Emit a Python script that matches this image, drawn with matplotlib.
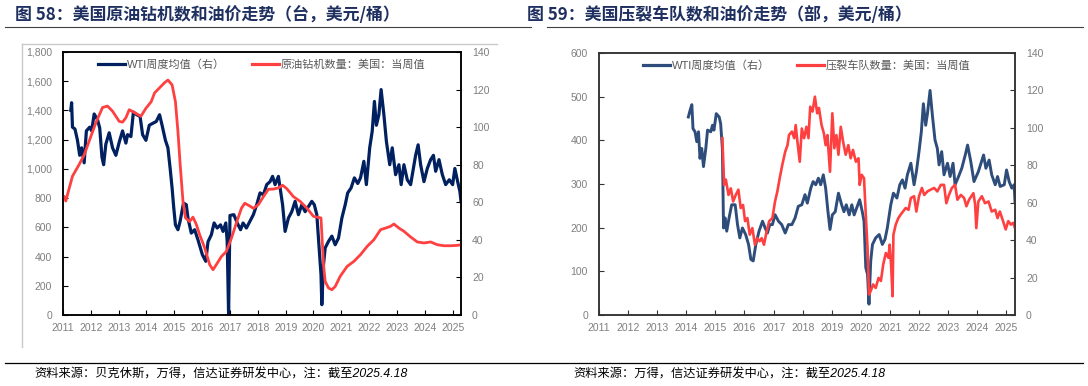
import matplotlib
matplotlib.use("Agg")
import matplotlib.pyplot as plt
from matplotlib.lines import Line2D
from matplotlib.ticker import FuncFormatter

plt.rcParams['font.family'] = ['Liberation Sans', 'Noto Sans CJK SC']
plt.rcParams['axes.unicode_minus'] = False

# ---- data: 图58 ----
rig_x = [2011.04, 2011.10, 2011.34, 2011.58, 2011.76, 2011.94, 2012.18, 2012.42, 2012.60, 2012.78,
         2013.02, 2013.14, 2013.26, 2013.38, 2013.62, 2013.80, 2013.98, 2014.17, 2014.29, 2014.47,
         2014.65, 2014.77, 2014.92, 2015.04, 2015.13, 2015.21, 2015.31, 2015.40, 2015.55, 2015.67,
         2015.79, 2015.91, 2016.09, 2016.27, 2016.39, 2016.51, 2016.69, 2016.87, 2017.05, 2017.23,
         2017.41, 2017.53, 2017.72, 2017.84, 2018.02, 2018.20, 2018.38, 2018.56, 2018.74, 2018.89,
         2019.04, 2019.28, 2019.52, 2019.76, 2020.00, 2020.18, 2020.27, 2020.36, 2020.42, 2020.54,
         2020.66, 2020.78, 2020.96, 2021.21, 2021.45, 2021.69, 2021.93, 2022.17, 2022.41, 2022.59,
         2022.77, 2022.89, 2023.07, 2023.25, 2023.49, 2023.73, 2023.97, 2024.21, 2024.45, 2024.69,
         2024.94, 2025.18, 2025.30]
rig_count = [810, 780, 950, 1030, 1095, 1190, 1315, 1420, 1430, 1395,
             1325, 1320, 1350, 1405, 1380, 1360, 1415, 1460, 1520, 1555,
             1590, 1608, 1575, 1460, 1255, 1030, 780, 665, 640, 670,
             620, 550, 460, 345, 310, 345, 400, 435, 525, 630,
             730, 765, 745, 730, 755, 810, 860, 862, 870, 888,
             865, 810, 778, 732, 675, 668, 664, 345, 230, 185,
             173, 195, 265, 333, 367, 413, 470, 515, 584, 595,
             607, 623, 595, 573, 534, 500, 493, 500, 481, 474,
             474, 477, 481]

wti1_x = [2011.28, 2011.31, 2011.34, 2011.43, 2011.52, 2011.60, 2011.67, 2011.76, 2011.84, 2011.96,
          2012.03, 2012.12, 2012.24, 2012.32, 2012.40, 2012.46, 2012.54, 2012.66, 2012.78, 2012.90,
          2013.02, 2013.14, 2013.26, 2013.32, 2013.44, 2013.53, 2013.65, 2013.77, 2013.86, 2013.98,
          2014.10, 2014.22, 2014.35, 2014.47, 2014.56, 2014.68, 2014.77, 2014.85, 2014.92, 2014.98,
          2015.04, 2015.13, 2015.21, 2015.33, 2015.43, 2015.49, 2015.61, 2015.73, 2015.85, 2016.01,
          2016.13, 2016.21, 2016.33, 2016.43, 2016.54, 2016.66, 2016.75, 2016.85, 2016.90, 2016.95,
          2017.00, 2017.14, 2017.26, 2017.38, 2017.47, 2017.59, 2017.72, 2017.84, 2017.96, 2018.08,
          2018.20, 2018.32, 2018.44, 2018.53, 2018.62, 2018.74, 2018.80, 2018.89, 2018.98, 2019.10,
          2019.22, 2019.34, 2019.46, 2019.58, 2019.70, 2019.82, 2019.94, 2020.03, 2020.12, 2020.22,
          2020.27, 2020.30, 2020.36, 2020.42, 2020.54, 2020.66, 2020.78, 2020.90, 2021.02, 2021.14,
          2021.23, 2021.35, 2021.47, 2021.59, 2021.69, 2021.81, 2021.90, 2022.02, 2022.11, 2022.19,
          2022.26, 2022.35, 2022.43, 2022.53, 2022.62, 2022.74, 2022.83, 2022.95, 2023.07, 2023.15,
          2023.25, 2023.37, 2023.49, 2023.59, 2023.67, 2023.76, 2023.85, 2023.97, 2024.09, 2024.21,
          2024.31, 2024.39, 2024.51, 2024.63, 2024.75, 2024.88, 2025.00, 2025.08, 2025.18, 2025.26,
          2025.30]
wti1 = [109, 113, 100, 99, 93, 85, 89, 81, 98, 100,
        98, 107, 104, 99.5, 84, 80, 91, 97, 89, 85,
        92, 98, 91.5, 96, 95, 108, 106.6, 105.7, 96, 93,
        101, 102, 103, 106.6, 101, 93, 89, 78, 67.6, 57,
        48, 45.4, 50, 59.6, 58.7, 51.6, 43.6, 45.4, 40, 32,
        28.6, 39, 42.7, 49, 46.3, 48, 44.5, 49, 39, 0,
        53, 53.4, 49, 45.4, 49, 46.3, 50, 53.4, 58.7, 65,
        64, 69.4, 71, 73.8, 69.4, 73.8, 67.6, 58.7, 44.5, 51.6,
        55, 60.5, 53.4, 58.7, 55, 57.8, 60.5, 58.7, 53.4, 32,
        21.5, 5.5, 26.8, 35.7, 39.2, 42, 37.4, 41, 51.6, 58.7,
        65, 67.6, 73, 70, 73, 81.8, 69.4, 89, 97.8, 113.7,
        101, 106.6, 120, 106.6, 92.4, 80, 89, 74.7, 80, 69.4,
        80, 72, 69.4, 78, 85, 90.6, 80, 71, 78, 82.7,
        85, 76.5, 82.7, 74.7, 69.4, 72, 69.4, 78, 71, 65.8,
        60.5]

# ---- data: 图59 ----
wti2_x = [2014.07, 2014.13, 2014.19, 2014.23, 2014.30, 2014.36, 2014.42, 2014.47, 2014.53, 2014.59,
          2014.67, 2014.73, 2014.84, 2014.90, 2014.95, 2015.03, 2015.13, 2015.18, 2015.24, 2015.28,
          2015.33, 2015.39, 2015.47, 2015.56, 2015.68, 2015.76, 2015.84, 2015.93, 2016.04, 2016.14,
          2016.22, 2016.30, 2016.39, 2016.50, 2016.62, 2016.71, 2016.79, 2016.87, 2016.96, 2017.05,
          2017.17, 2017.28, 2017.40, 2017.51, 2017.63, 2017.74, 2017.85, 2017.97, 2018.08, 2018.16,
          2018.28, 2018.36, 2018.45, 2018.54, 2018.62, 2018.71, 2018.79, 2018.87, 2018.94, 2019.02,
          2019.12, 2019.23, 2019.34, 2019.42, 2019.50, 2019.60, 2019.69, 2019.77, 2019.88, 2019.96,
          2020.05, 2020.11, 2020.17, 2020.23, 2020.28, 2020.34, 2020.40, 2020.51, 2020.63, 2020.74,
          2020.83, 2020.91, 2021.03, 2021.12, 2021.24, 2021.34, 2021.43, 2021.52, 2021.60, 2021.72,
          2021.83, 2021.91, 2022.00, 2022.08, 2022.15, 2022.23, 2022.29, 2022.38, 2022.46, 2022.55,
          2022.63, 2022.69, 2022.78, 2022.86, 2022.98, 2023.07, 2023.17, 2023.24, 2023.36, 2023.47,
          2023.59, 2023.67, 2023.78, 2023.89, 2024.04, 2024.22, 2024.30, 2024.41, 2024.50, 2024.62,
          2024.70, 2024.79, 2024.93, 2025.01, 2025.10, 2025.19, 2025.27, 2025.30]
wti2 = [105.8, 109.4, 112.4, 99.6, 97.9, 92.6, 97.9, 83.7, 89, 79.3,
        89, 98.8, 97.9, 101.4, 98.8, 107.6, 105.8, 102.3, 89, 46.5,
        51.9, 44.8, 51.9, 58.9, 58.9, 48.3, 41.2, 46.5, 43, 37.7,
        29.7, 28.9, 37.7, 44.8, 50.1, 46.5, 43.8, 48.3, 48.3, 53.6,
        50.1, 48.3, 43.8, 48.3, 48.3, 51.9, 58.1, 58.9, 64.3, 59.8,
        67.8, 71.3, 69.6, 73.1, 69.6, 74.9, 67.8, 55.2, 45.7, 53.5,
        55.2, 65.1, 58.9, 55.2, 58.9, 53.5, 58.9, 53.5, 58.1, 61.6,
        55.2, 50.1, 25.3, 21.8, 5.8, 28.9, 37.7, 41.2, 43, 37.7,
        40.4, 46.5, 58.9, 65.1, 62.5, 69.6, 72.2, 67.8, 74.9, 81.1,
        69.6, 76.6, 87.3, 97.9, 112.9, 101.4, 107.6, 120, 106.7, 93.5,
        89, 80.2, 87.3, 74.9, 81.1, 74, 81.1, 69.6, 74, 78.4,
        85.5, 90.8, 82, 71.3, 76.6, 85.5, 78.4, 82.8, 74.9, 69.6,
        74, 68.7, 69.6, 77.5, 71.3, 67.8, 69.6, 60.7]

frac_x = [2015.24, 2015.30, 2015.36, 2015.45, 2015.53, 2015.61, 2015.70, 2015.79, 2015.87, 2015.95,
          2016.02, 2016.10, 2016.18, 2016.27, 2016.36, 2016.44, 2016.52, 2016.59, 2016.67, 2016.75,
          2016.85, 2016.96, 2017.05, 2017.13, 2017.21, 2017.30, 2017.40, 2017.48, 2017.53, 2017.63,
          2017.71, 2017.76, 2017.82, 2017.90, 2017.97, 2018.05, 2018.13, 2018.20, 2018.26, 2018.34,
          2018.42, 2018.50, 2018.56, 2018.65, 2018.73, 2018.79, 2018.85, 2018.94, 2019.02, 2019.09,
          2019.16, 2019.23, 2019.31, 2019.39, 2019.48, 2019.57, 2019.65, 2019.73, 2019.83, 2019.92,
          2019.96, 2020.03, 2020.11, 2020.17, 2020.23, 2020.28, 2020.34, 2020.42, 2020.51, 2020.61,
          2020.69, 2020.77, 2020.86, 2020.95, 2020.99, 2021.04, 2021.09, 2021.12, 2021.20, 2021.29,
          2021.37, 2021.45, 2021.54, 2021.64, 2021.72, 2021.83, 2021.91, 2022.00, 2022.10, 2022.18,
          2022.29, 2022.40, 2022.52, 2022.63, 2022.75, 2022.86, 2022.94, 2023.03, 2023.13, 2023.24,
          2023.32, 2023.44, 2023.55, 2023.63, 2023.72, 2023.87, 2023.93, 2023.97, 2024.04, 2024.16,
          2024.27, 2024.39, 2024.50, 2024.62, 2024.70, 2024.78, 2024.89, 2024.98, 2025.07, 2025.16,
          2025.24, 2025.30]
frac_count = [405, 298, 310, 275, 290, 260, 275, 287, 245, 252,
              215, 222, 184, 199, 161, 176, 169, 176, 161, 188,
              215, 222, 260, 283, 313, 344, 374, 389, 412, 420,
              405, 435, 397, 351, 427, 405, 431, 405, 477, 466,
              500, 462, 474, 435, 416, 389, 412, 328, 462, 382,
              412, 367, 431, 397, 367, 389, 359, 378, 351, 359,
              298, 321, 313, 230, 154, 47, 55, 70, 62, 85,
              78, 116, 142, 131, 161, 116, 43, 184, 207, 222,
              230, 237, 245, 241, 268, 272, 237, 272, 291, 275,
              283, 287, 291, 283, 298, 298, 256, 275, 291, 298,
              264, 275, 268, 249, 264, 279, 253, 199, 260, 272,
              256, 260, 237, 241, 222, 237, 215, 196, 215, 207,
              211, 199]

years = list(range(2011, 2026))

RED = '#FF4040'
NAVY = '#002060'
BLUE = '#2E4D7B'
TICK_GRAY = '#7F7F7F'
TITLE_COLOR = '#1F3060'

fig = plt.figure(figsize=(10.88, 3.86), dpi=100)


def style_axes(ax, ax2, spine_color):
    for a in (ax, ax2):
        for s in a.spines.values():
            s.set_color(spine_color)
            s.set_linewidth(1.1)
        a.tick_params(direction='in', length=3.5, width=0.8, color=spine_color,
                      labelsize=7.5, labelcolor=TICK_GRAY, pad=8)
    ax.tick_params(axis='x', pad=6)
    ax.set_xlim(2011, 2025.3)
    ax.set_xticks(years)
    ax.set_xticklabels([str(y) for y in years])
    ax2.set_ylim(0, 140)
    ax2.set_yticks(range(0, 141, 20))
    ax.set_zorder(ax2.get_zorder() + 1)
    ax.patch.set_visible(False)


# ---- 图58 ----
ax = fig.add_axes([0.0579, 0.1839, 0.3658, 0.6814])
ax2 = ax.twinx()
ax2.plot(wti1_x, wti1, color=NAVY, lw=2.3)
ax.plot(rig_x, rig_count, color=RED, lw=2.0)
ax.set_ylim(0, 1800)
ax.set_yticks(range(0, 1801, 200))
ax.yaxis.set_major_formatter(FuncFormatter(lambda v, _: f"{int(v):,}"))
style_axes(ax, ax2, 'black')
h = [Line2D([], [], color=NAVY, lw=2.3), Line2D([], [], color=RED, lw=2.3)]
leg = ax.legend(h, ['WTI周度均值（右）', '原油钻机数量：美国：当周值'], loc='upper center',
                ncol=2, frameon=False, fontsize=8, handlelength=2.4, handletextpad=0.2,
                columnspacing=2.4, borderaxespad=0.25)
for t in leg.get_texts():
    t.set_color('#595959')

# ---- 图59 ----
bx = fig.add_axes([0.5506, 0.1839, 0.3823, 0.6788])
bx2 = bx.twinx()
bx2.plot(wti2_x, wti2, color=BLUE, lw=2.1)
bx.plot(frac_x, frac_count, color=RED, lw=1.9)
bx.set_ylim(0, 600)
bx.set_yticks(range(0, 601, 100))
style_axes(bx, bx2, '#333333')
h = [Line2D([], [], color=BLUE, lw=2.3), Line2D([], [], color=RED, lw=2.3)]
leg = bx.legend(h, ['WTI周度均值（右）', '压裂车队数量：美国：当周值'], loc='upper center',
                ncol=2, frameon=False, fontsize=8, handlelength=2.4, handletextpad=0.2,
                columnspacing=2.4, borderaxespad=0.25)
for t in leg.get_texts():
    t.set_color('#595959')

# ---- titles, frame, footer ----
fig.text(0.0138, 0.961, '图 58：美国原油钻机数和油价走势（台，美元/桶）', fontsize=12.2,
         fontweight='bold', color=TITLE_COLOR, va='center', family='Noto Sans CJK SC')
fig.text(0.4844, 0.961, '图 59：美国压裂车队数和油价走势（部，美元/桶）', fontsize=12.2,
         fontweight='bold', color=TITLE_COLOR, va='center', family='Noto Sans CJK SC')
fig.add_artist(Line2D([0.005, 0.488], [0.930, 0.930], color='#404040', lw=0.8))
fig.add_artist(Line2D([0.503, 0.995], [0.930, 0.930], color='#404040', lw=0.8))

fig.add_artist(Line2D([0.0202, 0.4568], [0.886, 0.886], color='#C8C8C8', lw=1.0))
fig.add_artist(Line2D([0.0202, 0.0202], [0.886, 0.100], color='#C8C8C8', lw=1.0))

fig.add_artist(Line2D([0.005, 0.995], [0.0596, 0.0596], color='black', lw=0.9))
fig.text(0.032, 0.031, '资料来源：贝克休斯，万得，信达证券研发中心，注：截至2025.4.18',
         fontsize=8.8, style='italic', va='center')
fig.text(0.5267, 0.031, '资料来源：万得，信达证券研发中心，注：截至2025.4.18',
         fontsize=8.8, style='italic', va='center')

fig.savefig('out.png', dpi=100)
